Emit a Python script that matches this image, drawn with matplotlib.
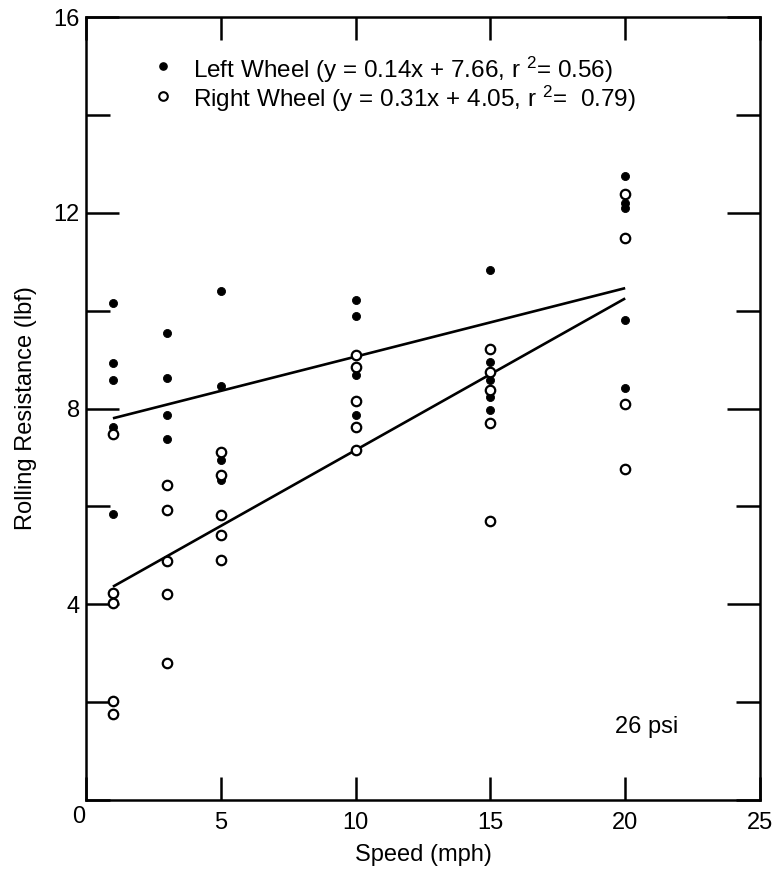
import matplotlib
matplotlib.use("Agg")
import matplotlib.pyplot as plt
from matplotlib.ticker import MultipleLocator

plt.rcParams['font.family'] = ['Liberation Sans', 'DejaVu Sans']
plt.rcParams['mathtext.fontset'] = 'custom'
plt.rcParams['mathtext.rm'] = 'Liberation Sans'
plt.rcParams['mathtext.default'] = 'regular'

# Measured rolling resistance (lbf) at each test speed (mph), 26 psi
left_speeds = [1, 1, 1, 1, 1,
               3, 3, 3, 3,
               5, 5, 5, 5,
               10, 10, 10, 10,
               15, 15, 15, 15, 15,
               20, 20, 20, 20, 20]
left_force = [10.16, 8.94, 8.58, 7.63, 5.84,
              9.55, 8.62, 7.87, 7.37,
              10.41, 8.45, 6.95, 6.54,
              10.22, 9.90, 8.69, 7.87,
              10.83, 8.95, 8.58, 8.24, 7.97,
              12.76, 12.19, 12.09, 9.80, 8.41]

right_speeds = [1, 1, 1, 1, 1,
                3, 3, 3, 3, 3,
                5, 5, 5, 5, 5,
                10, 10, 10, 10, 10,
                15, 15, 15, 15, 15,
                20, 20, 20, 20]
right_force = [7.47, 4.24, 4.02, 2.03, 1.76,
               6.44, 5.93, 4.89, 4.21, 2.81,
               7.12, 6.65, 5.82, 5.41, 4.90,
               9.10, 8.84, 8.15, 7.63, 7.15,
               9.22, 8.75, 8.38, 7.71, 5.71,
               12.38, 11.49, 8.09, 6.76]

# Linear fits (slope, intercept, r^2)
left_fit = (0.14, 7.66, 0.56)
right_fit = (0.31, 4.05, 0.79)
fit_range = [1, 20]

x_ticks = [0, 5, 10, 15, 20, 25]
y_major = [4, 8, 12, 16]

fig = plt.figure(figsize=(7.83, 8.73), dpi=100)
ax = fig.add_axes([0.1098, 0.0836, 0.8608, 0.8969])

# Regression lines
for slope, icpt, _ in (left_fit, right_fit):
    ax.plot(fit_range, [slope * v + icpt for v in fit_range],
            color='black', lw=1.9, zorder=2, solid_capstyle='butt')

ax.plot(left_speeds, left_force, linestyle='none', marker='o', ms=5.8,
        mfc='black', mec='black', mew=0.6, zorder=3)
ax.plot(right_speeds, right_force, linestyle='none', marker='o', ms=6.8,
        mfc='white', mec='black', mew=1.6, zorder=4)

ax.set_xlim(0, 25)
ax.set_ylim(0, 16)
ax.set_xticks(x_ticks)
ax.set_xticklabels([''] + [str(t) for t in x_ticks[1:]])
ax.set_yticks(y_major)
ax.yaxis.set_minor_locator(MultipleLocator(2))

for s in ax.spines.values():
    s.set_linewidth(1.8)

ax.tick_params(axis='x', which='major', direction='in', length=16.5, width=1.8,
               top=True, bottom=True, labelsize=17, pad=8.5)
ax.tick_params(axis='y', which='major', direction='in', length=24, width=1.8,
               left=True, right=True, labelsize=17, pad=4.5)
ax.tick_params(axis='y', which='minor', direction='in', length=17, width=1.8,
               left=True, right=True)

# Shared origin label at the corner
ax.annotate('0', xy=(0, 0), xycoords='data', xytext=(-5.5, -12),
            textcoords='offset points', ha='center', va='center', fontsize=17)

ax.set_xlabel('Speed (mph)', fontsize=17, labelpad=7)
ax.set_ylabel('Rolling Resistance (lbf)', fontsize=17, labelpad=12)

ax.text(20.8, 1.5, '26 psi', ha='center', va='center', fontsize=17)

# Key: marker symbols with the fit equations
labels = [
    'Left Wheel (y = %.2fx + %.2f, r ${}^{2}$= %.2f)' % left_fit,
    'Right Wheel (y = %.2fx + %.2f, r ${}^{2}$=  %.2f)' % right_fit,
]
key_rows = [0.9370, 0.8995]
ax.plot([0.1142], [key_rows[0]], transform=ax.transAxes, linestyle='none',
        marker='o', ms=5.2, mfc='black', mec='black', clip_on=False)
ax.plot([0.1142], [key_rows[1]], transform=ax.transAxes, linestyle='none',
        marker='o', ms=6.2, mfc='white', mec='black', mew=1.5, clip_on=False)
for yk, lab in zip(key_rows, labels):
    ax.text(0.1588, yk, lab, transform=ax.transAxes, ha='left',
            va='center_baseline', fontsize=17.5)

fig.savefig('out.png', dpi=100)
